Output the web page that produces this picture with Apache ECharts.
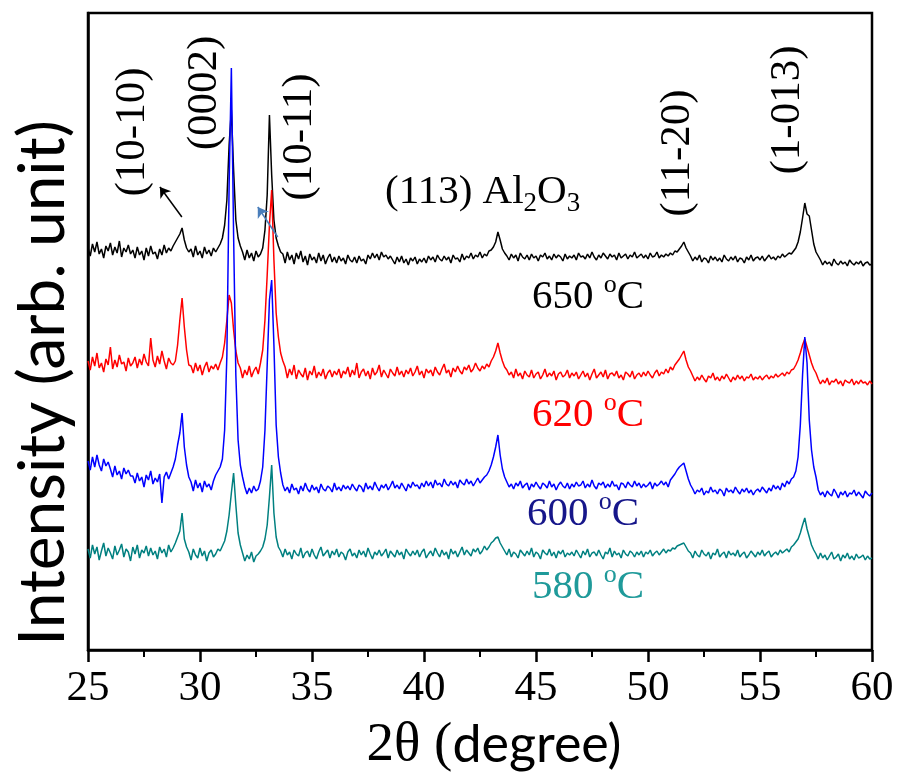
<!DOCTYPE html>
<html>
<head>
<meta charset="utf-8">
<script src="https://cdn.jsdelivr.net/npm/echarts@6/dist/echarts.min.js"></script>
<style>
html, body { margin: 0; padding: 0; background: #fff; }
#chart { width: 898px; height: 780px; }
</style>
</head>
<body>
<div id="chart"></div>
<script>
// 2theta scan: 25.0 .. 60.0 deg, 0.1 deg step
var scanStart = 25.0;
var scanStep = 0.1;

// intensities (arb. units, above each pattern's own baseline)
var i650 = [12,4,16,8,18,6,11,2,14,9,17,5,13,7,19,3,12,8,15,6,
  10,2,13,5,9,0,12,4,14,6,8,1,11,5,15,7,12,9,
  14,18,22,26,32,20,12,8,
  11,3,14,5,9,2,13,6,10,4,12,8,
  12,16,22,35,60,115,150,90,40,22,14,
  8,0,10,2,7,-1,9,3,6,
  12,30,65,145,85,40,22,14,8,
  6,-3,8,0,5,-4,7,1,9,-2,4,-5,6,0,3,-3,7,-1,5,-4,2,6,-2,
  3,-3,4,-1,2,-4,5,0,-2,3,-3,4,-1,1,-4,
  5,1,7,2,6,0,8,3,5,1,4,
  0,-4,3,-2,4,-3,1,-5,2,-1,3,-4,1,-2,
  2,-3,4,0,3,-2,5,1,-1,4,0,3,-3,5,1,2,-2,6,0,4,2,7,1,5,3,8,2,6,4,9,
  10,13,18,28,20,11,7,
  4,0,6,2,5,-1,7,3,1,5,0,6,2,4,-1,5,3,7,1,4,0,6,2,5,3,-1,6,1,4,2,
  5,0,7,3,4,1,6,2,8,3,0,5,2,7,4,1,6,3,5,0,7,2,4,6,1,5,3,8,2,4,
  6,2,5,1,7,3,4,8,2,5,3,6,4,7,5,9,8,
  11,14,18,12,8,
  4,-1,3,0,5,-2,2,1,-3,4,0,3,-1,2,-2,5,1,-1,3,0,4,-2,2,1,-3,3,0,5,-1,2,
  3,0,4,-1,2,5,1,3,0,4,2,6,3,5,7,6,9,
  12,18,28,42,57,46,44,30,16,8,4,
  0,-5,-1,-4,-2,-6,1,-3,-5,-1,-4,-2,-6,0,-3,-5,-2,-4,-1,-6,-3,-2,-5,-4];

var i620 = [14,5,18,9,22,7,12,3,16,10,28,6,15,8,20,11,13,4,17,9,
  12,18,7,16,10,21,13,9,37,15,8,19,11,24,14,6,17,12,10,
  14,30,55,77,48,25,10,
  9,2,12,4,10,0,8,13,3,9,6,11,5,
  12,18,32,55,80,72,45,24,12,
  7,-3,5,0,9,-2,4,8,1,
  12,25,55,100,150,185,115,62,38,22,14,
  8,-3,6,0,10,-4,5,1,-2,7,-5,4,0,9,-3,3,-1,6,-4,2,5,-2,4,
  0,6,-3,4,1,8,-2,5,0,12,-3,3,6,-1,4,-4,7,0,3,10,-2,5,1,-3,6,2,-1,8,0,4,
  -2,5,1,7,-1,3,9,0,4,-3,6,2,5,-1,8,3,0,6,11,2,5,-2,7,3,9,4,1,8,5,10,3,6,12,7,4,9,6,11,8,
  14,18,24,32,22,14,8,
  5,0,3,-3,6,-1,2,-4,4,0,-2,5,-3,1,3,-4,0,6,-2,2,-1,4,-5,1,3,-2,0,5,-3,2,
  -1,3,-4,0,4,-2,2,-5,1,6,-3,0,3,-2,5,-4,1,2,-1,4,-3,0,-5,3,1,-2,4,-4,0,2,
  -2,3,-1,4,0,-3,2,5,-1,3,1,6,2,8,5,10,13,
  16,20,24,15,8,4,
  -1,-6,-2,-5,0,-4,-7,-1,-3,2,-5,-2,-6,-1,-4,1,-3,-7,-2,-5,0,-4,-1,-6,-2,-3,1,-5,-2,-4,
  -1,-5,-2,0,-4,-1,-3,1,-2,0,2,-1,3,1,5,
  6,10,15,22,30,36,28,20,12,6,2,
  -4,-9,-5,-8,-3,-10,-6,-7,-4,-9,-6,-11,-5,-7,-8,-4,-10,-6,-9,-5,-8,-7,-10,-6,-9];

var i600 = [24,15,28,18,30,20,14,26,19,23,
  16,8,19,10,14,6,17,11,15,9,
  9,2,12,4,8,-2,10,5,14,1,7,3,11,-18,8,13,6,
  12,18,26,40,52,72,38,20,8,
  3,-6,5,-3,2,-7,4,-2,1,-5,
  4,10,14,18,26,55,130,300,417,250,110,45,20,8,
  -2,-9,-3,-8,-1,-6,-4,
  4,18,55,120,185,205,140,60,28,12,
  0,-6,-2,-8,1,-5,-3,-9,-1,-6,2,-4,-7,0,-5,-2,-8,1,-4,-6,-1,-3,-7,2,-5,-2,-6,0,-4,-1,
  -5,1,-3,-6,0,-2,-7,2,-4,-1,-5,3,-2,-6,0,-3,1,-5,-1,4,-3,0,-4,2,-2,-6,1,-3,3,-1,
  0,-4,2,-2,4,-1,3,-3,5,0,2,-2,6,1,-1,4,0,3,-3,5,2,0,6,1,4,-1,3,7,2,5,8,10,14,
  20,28,38,50,30,16,8,
  3,-2,1,-4,2,-1,4,-3,0,2,-5,1,-2,3,-1,-4,2,0,-3,4,-2,1,-5,0,3,-1,-3,2,-4,1,
  -2,3,-1,0,4,-3,1,-2,5,-1,-4,2,0,3,-3,1,-2,4,-1,0,-5,2,1,-3,3,0,-2,4,-1,2,
  -3,1,-2,0,3,-4,2,-1,1,4,0,3,-2,5,8,11,15,
  18,20,22,14,6,0,
  -4,-9,-5,-7,-3,-10,-6,-8,-2,-7,-5,-9,-4,-6,-11,-3,-7,-5,-8,-2,-6,-9,-4,-7,-3,-8,-5,-10,-6,-4,
  -7,-2,-5,-8,-3,-6,0,-4,-1,-5,2,-2,4,1,6,
  8,14,28,60,110,148,122,65,35,18,8,
  -5,-10,-7,-12,-6,-9,-11,-4,-8,-13,-7,-10,-6,-12,-8,-9,-5,-11,-7,-10,-13,-6,-9,-11,-8];

var i580 = [6,-3,10,1,8,-5,4,12,-1,7,2,-4,9,0,5,11,-2,6,3,-6,8,1,10,-3,5,2,9,-1,7,0,
  4,-4,8,2,6,-2,10,3,7,
  12,18,24,42,16,8,
  3,-5,6,0,-3,7,-1,4,-6,2,5,-2,1,6,4,9,
  14,24,40,62,82,50,22,10,
  2,-6,0,-4,3,-7,-1,1,4,8,
  16,30,58,90,42,18,8,
  4,-2,6,0,3,-4,5,1,-1,7,-3,2,4,-2,6,0,-4,3,8,-1,2,5,-3,4,0,6,-2,3,1,-5,
  3,6,-1,2,-3,5,0,4,-2,7,1,-4,3,0,5,-1,2,6,-3,4,1,-2,5,0,3,-4,6,2,-1,4,
  0,5,-2,3,6,-3,1,4,-1,7,2,-2,5,0,3,-4,6,1,4,-2,3,8,0,5,2,-1,6,3,7,1,4,9,5,8,12,
  14,17,18,12,8,
  4,0,6,-2,3,1,-3,5,2,-1,4,0,7,-2,3,1,-4,5,2,0,6,-1,3,-3,4,1,5,-2,2,0,
  3,-1,5,1,-3,4,0,6,-2,2,3,-1,5,0,-4,3,1,7,-2,4,0,2,-3,5,1,-1,4,2,-2,3,
  0,4,-2,3,1,5,-1,2,4,0,3,6,2,5,4,7,6,9,
  10,11,12,8,4,
  2,-3,4,0,-2,5,1,-1,3,-4,2,0,6,-2,1,3,-3,4,0,2,-1,5,-2,1,3,-3,0,4,1,-2,
  3,0,5,-1,2,4,-2,1,3,0,5,2,4,6,3,8,10,13,
  16,22,30,37,26,18,10,5,
  1,-4,2,-3,0,-5,-1,3,-4,-2,1,-6,0,-3,2,-4,-1,-5,1,-3,-2,0,-5,-1,-4,-3];

var temps = ['650', '620', '600', '580'];
var lineColors = ['#000000', '#ff0000', '#0000ff', '#008080'];
var offsets = [390, 275, 165, 95];   // vertical stacking of the patterns
var patterns = [i650, i620, i600, i580];

function toPoints(vals, off) {
    var pts = [];
    for (var i = 0; i < vals.length; i++) {
        pts.push([+(scanStart + i * scanStep).toFixed(1), vals[i] + off]);
    }
    return pts;
}

var chart = echarts.init(document.getElementById('chart'));

var series = patterns.map(function(p, k) {
    return {
        name: temps[k] + ' oC',
        type: 'line',
        data: toPoints(p, offsets[k]),
        showSymbol: false,
        symbol: 'none',
        sampling: 'none',
        lineStyle: { color: lineColors[k], width: 1.5 },
        z: 2 + k
    };
});

// the two arrows pointing at the (10-10) and (10-11) shoulders
series[0].markLine = {
    silent: true,
    symbol: ['none', 'arrow'],
    symbolSize: 10,
    label: { show: false },
    data: [
        [{ coord: [29.19, 433], lineStyle: { color: '#000', width: 1.5, type: 'solid' } },
         { coord: [28.21, 463] }],
        [{ coord: [33.47, 413], lineStyle: { color: '#4a7ebb', width: 1.5, type: 'solid' } },
         { coord: [32.58, 443] }]
    ]
};

var serif = '"Liberation Serif", "Times New Roman", serif';

function vLabel(txt, x, y, font) {
    return {
        type: 'text', x: x, y: y, rotation: Math.PI / 2, z: 100,
        style: {
            text: txt, fill: '#000', font: font || ('43px ' + serif),
            textAlign: 'center', textVerticalAlign: 'middle',
            align: 'center', verticalAlign: 'middle'
        }
    };
}

function tLabel(t, color, x, y) {
    return {
        type: 'text', x: x, y: y, z: 100,
        style: {
            text: '{n|' + t + ' }{o|o}{n|C}',
            fill: color,
            textAlign: 'left', textVerticalAlign: 'middle',
            align: 'left', verticalAlign: 'middle',
            rich: {
                n: { fontSize: 41, fontFamily: serif, fill: color },
                o: { fontSize: 26, fontFamily: serif, fill: color, padding: [0, 0, 24, 0] }
            }
        }
    };
}

chart.setOption({
    animation: false,
    backgroundColor: '#fff',
    grid: {
        left: 88, right: 26, top: 13, bottom: 130,
        show: true, borderColor: '#000', borderWidth: 2.5
    },
    xAxis: {
        type: 'value',
        min: 25, max: 60, interval: 5,
        name: '{s|2θ (}{n|degree)}',
        nameLocation: 'middle',
        nameGap: 68,
        nameTextStyle: {
            padding: [0, 0, 0, 28],
            rich: {
                s: { fontFamily: serif, fontSize: 55, color: '#000' },
                n: { fontFamily: 'Lato', fontSize: 52, color: '#000' }
            }
        },
        axisLine: { lineStyle: { color: '#000', width: 2.5 } },
        axisTick: { length: 12, lineStyle: { color: '#000', width: 2.5 } },
        minorTick: { show: true, splitNumber: 2, length: 7, lineStyle: { color: '#000', width: 2 } },
        axisLabel: { fontFamily: serif, fontSize: 43, color: '#000', margin: 17 },
        splitLine: { show: false }
    },
    yAxis: {
        type: 'value',
        min: 0, max: 637,
        axisLine: { show: true, lineStyle: { color: '#000', width: 2.5 } },
        axisTick: { show: false },
        axisLabel: { show: false },
        splitLine: { show: false }
    },
    graphic: [
        {
            type: 'text', x: 43, y: 383, rotation: Math.PI / 2, z: 100,
            style: {
                text: 'Intensity (arb. unit)', fill: '#000', font: '64px Lato',
                textAlign: 'center', textVerticalAlign: 'middle',
                align: 'center', verticalAlign: 'middle'
            }
        },
        vLabel('(10-10)', 133, 132),
        vLabel('(0002)', 205, 93),
        vLabel('(10-11)', 300, 137),
        vLabel('(11-20)', 678, 153),
        vLabel('(1-013)', 788, 110),
        {
            type: 'text', x: 385, y: 192, z: 100,
            style: {
                text: '{n|(113) Al}{s|2}{n|O}{s|3}',
                fill: '#000',
                textAlign: 'left', textVerticalAlign: 'middle',
                align: 'left', verticalAlign: 'middle',
                rich: {
                    n: { fontSize: 41, fontFamily: serif, fill: '#000' },
                    s: { fontSize: 27, fontFamily: serif, fill: '#000', padding: [24, 0, 0, 0] }
                }
            }
        },
        tLabel('650', '#000000', 532, 297),
        tLabel('620', '#ff0000', 532, 415),
        tLabel('600', '#16168a', 527, 514),
        tLabel('580', '#1f9a9a', 532, 587)
    ],
    series: series
});
</script>
</body>
</html>
